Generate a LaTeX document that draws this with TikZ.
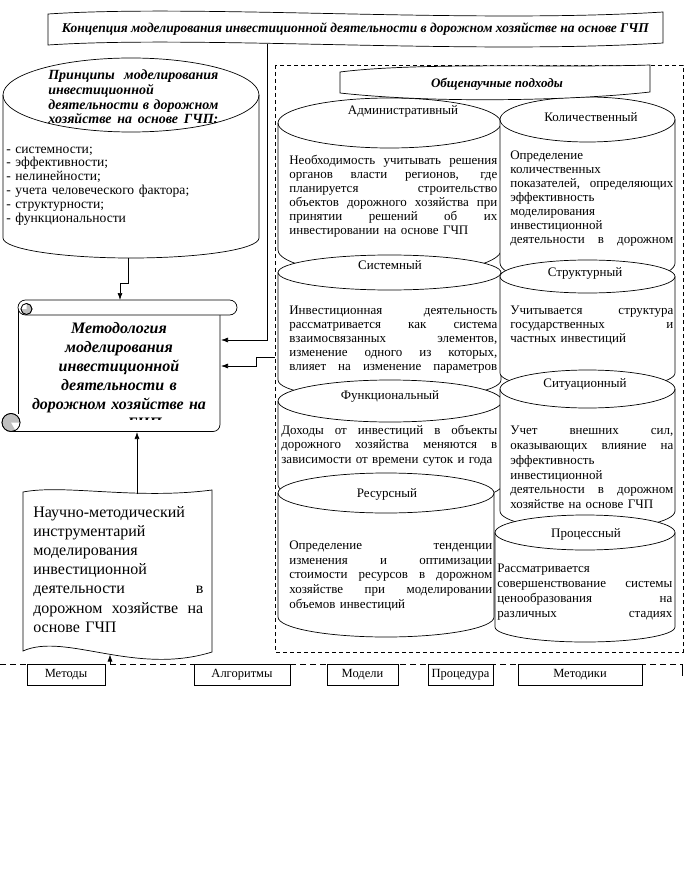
\documentclass[tikz,border=0pt]{standalone}
\usepackage{fontspec}
\setmainfont{Liberation Serif}
\usetikzlibrary{arrows.meta}
\setlength\parindent{0pt}
\tolerance=10000 \hbadness=10000 \hfuzz=20pt
\newlength\jw
\newcommand\J[1]{\leavevmode\hbox to \jw{\spaceskip=0.25em plus 1fil\relax #1}}
\newcommand\cylshape[6]{%
  \pgfmathsetmacro\cylrx{(#2-#1)/2}%
  \pgfmathsetmacro\cylyt{#3+#5}%
  \pgfmathsetmacro\cylyb{#4-#6}%
  \draw[fill=white] (#1,\cylyt) -- (#1,\cylyb) arc[start angle=180,end angle=360,x radius=\cylrx pt,y radius=#6pt] -- (#2,\cylyt) arc[start angle=0,end angle=180,x radius=\cylrx pt,y radius=#5pt] -- cycle;
  \draw (#1,\cylyt) arc[start angle=180,end angle=360,x radius=\cylrx pt,y radius=#5pt];
}
\begin{document}
\begin{tikzpicture}[x=1pt,y=-1pt,line width=0.7pt,
  arr/.style={-{Latex[length=7pt,width=5pt]}},
  btext/.style={anchor=north west,inner sep=0pt,align=left,font=\fontsize{13}{14}\selectfont},
  ctitle/.style={anchor=base,inner sep=0pt,font=\fontsize{13}{14}\selectfont},
  lbl/.style={draw,minimum height=21pt,inner sep=0pt,font=\fontsize{12.5}{14}\selectfont}]
\fill[white] (0,0) rectangle (690,896);
\useasboundingbox (0,0) rectangle (690,896);

% top banner
\draw[fill=white] (48,14) .. controls (200,4) and (470,24) .. (663,12) -- (663,43) .. controls (470,55) and (200,35) .. (48,45) -- cycle;
\node[ctitle,font=\fontsize{13.5}{16}\selectfont\bfseries\itshape] (concept) at (355.5,32.4) {Концепция моделирования инвестиционной деятельности в дорожном хозяйстве на основе ГЧП};

% principles cylinder
\cylshape{3}{259}{58}{258}{37}{20}
\node[btext,text width=172pt,font=\fontsize{14}{14.3}\selectfont\bfseries\itshape] (princT) at (48,69.2) {\setlength\jw{170pt}\strut\J{Принципы моделирования}\\инвестиционной\\\J{деятельности в дорожном}\\\J{хозяйстве на основе ГЧП:}};
\node[btext,text width=240pt,font=\fontsize{13.6}{13.9}\selectfont] (princL) at (6,143) {\strut - системности;\\- эффективности;\\- нелинейности;\\- учета человеческого фактора;\\- структурности;\\- функциональности};

% methodology scroll
\fill[white] (18,315) rectangle (220,432);
\draw (18,308) -- (18,414);
\draw (11.5,431.5) -- (213,431.5) arc[start angle=270,end angle=360,radius=7pt] -- (220,315);
\draw[fill=white,rounded corners=7.5pt] (18,300) rectangle (237,315);
\draw[fill=gray!50] (26.5,309) circle (5.5pt);
\fill[white] (26.5,309) -- (21,309) arc[start angle=180,end angle=90,radius=5.5pt] -- cycle;
\draw (26.5,309) circle (5.5pt);
\draw[fill=gray!50] (11,422.5) circle (9pt);
\fill[white] (11,422.5) -- (20,422.5) arc[start angle=0,end angle=-60,radius=9pt] -- cycle;
\draw (11,422.5) circle (9pt);
\begin{scope}
\clip (18,315) rectangle (220,419.5);
\node[anchor=north,inner sep=0pt,text width=200pt,align=center,font=\fontsize{16}{19}\selectfont\bfseries\itshape] (method) at (119,320.3) {\strut Методология\\моделирования\\инвестиционной\\деятельности в\\дорожном хозяйстве на\\основе ГЧП};
\end{scope}

% tool document
\draw[fill=white] (23,492) .. controls (65,484) and (135,500) .. (212,490) -- (212,652) .. controls (135,676) and (65,632) .. (23,651) -- cycle;
\node[btext,text width=172pt,font=\fontsize{16}{19.2}\selectfont] (tool) at (33,503.4) {\setlength\jw{170pt}\strut Научно-методический\\инструментарий\\моделирования\\инвестиционной\\\J{деятельности в}\\\J{дорожном хозяйстве на}\\основе ГЧП};

% dashed region
\draw[dash pattern=on 4pt off 3pt] (275,65) rectangle (683,652);

% cylinders
\cylshape{278}{501}{98}{275}{25}{25}
\node[ctitle] (adminT) at (403,114.3) {Административный};
\node[btext,text width=210pt] (adminB) at (289,154.1) {\setlength\jw{208pt}\strut\J{Необходимость учитывать решения}\\\J{органов власти регионов, где}\\\J{планируется строительство}\\\J{объектов дорожного хозяйства при}\\\J{принятии решений об их}\\инвестировании на основе ГЧП};

\cylshape{500}{675}{97}{285}{22.5}{22}
\node[ctitle] (kolT) at (591,121.3) {Количественный};
\node[btext,text width=166pt] (kolB) at (510,149.1) {\setlength\jw{163pt}\strut Определение\\количественных\\\J{показателей, определяющих}\\эффективность\\моделирования\\инвестиционной\\\J{деятельности в дорожном}};

\cylshape{278}{501}{255}{400}{17.5}{20}
\node[ctitle] (sistT) at (390,269.3) {Системный};
\node[btext,text width=210pt] (sistB) at (289,304.1) {\setlength\jw{208pt}\strut\J{Инвестиционная деятельность}\\\J{рассматривается как система}\\\J{взаимосвязанных элементов,}\\\J{изменение одного из которых,}\\\J{влияет на изменение параметров}};

\cylshape{500}{675}{260}{390}{16.5}{17}
\node[ctitle] (strT) at (585,276.3) {Структурный};
\node[btext,text width=166pt] (strB) at (510,304.1) {\setlength\jw{163pt}\strut\J{Учитывается структура}\\\J{государственных и}\\частных инвестиций};

\cylshape{278}{502}{380}{505}{21}{20}
\node[ctitle] (funT) at (390,399.3) {Функциональный};
\node[btext,text width=218pt,font=\fontsize{13}{14.7}\selectfont] (funB) at (281,423.6) {\setlength\jw{216pt}\strut\J{Доходы от инвестиций в объекты}\\\J{дорожного хозяйства меняются в}\\зависимости от времени суток и года};

\cylshape{500}{675}{370}{530}{19}{19}
\node[ctitle] (sitT) at (585,387.3) {Ситуационный};
\begin{scope}
\clip (500,415) rectangle (675,508);
\node[btext,text width=166pt,font=\fontsize{13}{14.9}\selectfont] (sitB) at (510,423.6) {\setlength\jw{163pt}\strut\J{Учет внешних сил,}\\\J{оказывающих влияние на}\\эффективность\\инвестиционной\\\J{деятельности в дорожном}\\хозяйстве на основе ГЧП};
\end{scope}

\cylshape{278}{494}{473}{637}{20}{20}
\node[ctitle] (resT) at (387,497.3) {Ресурсный};
\node[btext,text width=205pt,font=\fontsize{13}{14.8}\selectfont] (resB) at (289,538.6) {\setlength\jw{203pt}\strut\J{Определение тенденции}\\\J{изменения и оптимизации}\\\J{стоимости ресурсов в дорожном}\\\J{хозяйстве при моделировании}\\объемов инвестиций};

\cylshape{495}{675}{515}{642}{17.5}{15}
\node[ctitle] (procT) at (586,537.3) {Процессный};
\node[btext,text width=177pt,font=\fontsize{13}{14.9}\selectfont] (procB) at (497,561.6) {\setlength\jw{175pt}\strut Рассматривается\\\J{совершенствование системы}\\\J{ценообразования на}\\\J{различных стадиях}};

% general approaches banner
\draw[fill=white] (340,72) .. controls (420,62) and (560,68) .. (650,65) -- (650,92) .. controls (580,100) and (440,104) .. (340,93) -- cycle;
\node[ctitle,font=\fontsize{13}{14}\selectfont\bfseries\itshape] (general) at (497,87.3) {Общенаучные подходы};

% bottom line and boxes
\draw[dash pattern=on 6pt off 4pt] (0,664) -- (682,664);
\draw (682,664) -- (682,676);
\node[lbl,minimum width=78pt] (m1) at (66,674.5) {Методы};
\node[lbl,minimum width=96pt] (m2) at (242,674.5) {Алгоритмы};
\node[lbl,minimum width=71pt] (m3) at (362.5,674.5) {Модели};
\node[lbl,minimum width=65pt] (m4) at (460.5,674.5) {Процедура};
\node[lbl,minimum width=124pt] (m5) at (580,674.5) {Методики};

% connectors
\coordinate (bannerB) at (267,44);
\coordinate (mR1) at (221,340);
\coordinate (mR2) at (221,366);
\coordinate (dashL) at (275,357);
\coordinate (princB) at (128,258);
\coordinate (mTop) at (120,300);
\coordinate (toolTop) at (137,494);
\coordinate (mBot) at (137,432);
\coordinate (lineP) at (110,664);
\coordinate (toolBot) at (110,654.5);
\draw[arr] (bannerB) |- (mR1);
\draw[arr] (dashL) -- (256,357) |- (mR2);
\draw[arr] (princB) -- (128,283) -| (mTop);
\draw[arr] (toolTop) -- (mBot);
\draw[arr] (lineP) -- (toolBot);
\end{tikzpicture}
\end{document}
